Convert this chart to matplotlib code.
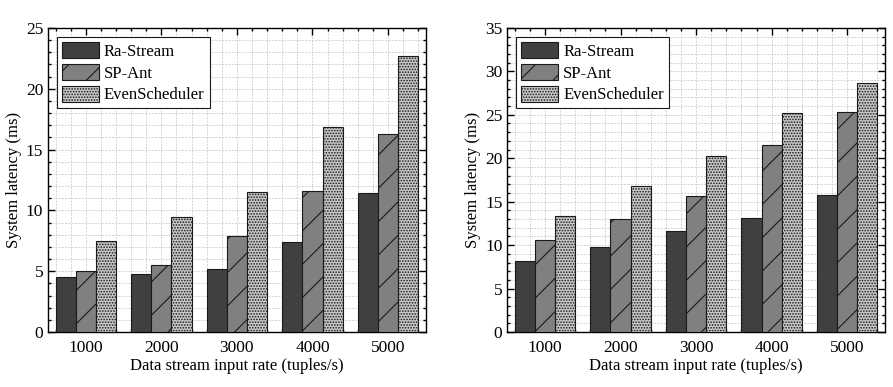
# -*- coding: utf-8 -*-
"""System latency vs. data stream input rate (two panels)."""

import numpy as np
import matplotlib
matplotlib.use("Agg")
import matplotlib.pyplot as plt
from matplotlib.ticker import MultipleLocator

rates = ["1000", "2000", "3000", "4000", "5000"]
series = ["Ra-Stream", "SP-Ant", "EvenScheduler"]

# left panel
left_ra = [4.5, 4.75, 5.2, 7.4, 11.4]
left_sp = [5.05, 5.5, 7.9, 11.6, 16.3]
left_even = [7.45, 9.45, 11.55, 16.85, 22.7]

# right panel
right_ra = [8.15, 9.8, 11.6, 13.1, 15.8]
right_sp = [10.6, 13.05, 15.6, 21.55, 25.3]
right_even = [13.3, 16.75, 20.25, 25.2, 28.7]

plt.rcParams["font.family"] = ["Liberation Serif", "DejaVu Serif"]
plt.rcParams["patch.force_edgecolor"] = True
plt.rcParams["patch.edgecolor"] = "#1a1a1a"
plt.rcParams["hatch.color"] = "#444444"
plt.rcParams["hatch.linewidth"] = 0.8

faces = ["#404040", "#808080", "#c8c8c8"]
hatches = [None, "/", "......"]


def _panel(ax, data, ymax):
    x = np.arange(1, len(rates) + 1)
    w = 0.267
    for i, (vals, name) in enumerate(zip(data, series)):
        ax.bar(x + (i - 1) * w, vals, width=w, color=faces[i], hatch=hatches[i],
               linewidth=0.8, label=name, zorder=3)
    ax.set_xlim(0.5, len(rates) + 0.5)
    ax.set_ylim(0, ymax)
    ax.set_xticks(x)
    ax.set_xticklabels(rates)
    ax.xaxis.set_minor_locator(MultipleLocator(0.2))
    ax.yaxis.set_major_locator(MultipleLocator(5))
    ax.yaxis.set_minor_locator(MultipleLocator(1))
    ax.tick_params(which="both", direction="in", top=True, right=True,
                   labelsize=12.5, width=1.0)
    ax.tick_params(which="major", length=5)
    ax.tick_params(which="minor", length=2.5)
    ax.tick_params(axis="x", pad=6)
    ax.grid(which="both", color="#cccccc", linestyle=(0, (2.5, 1.5)),
            linewidth=0.6, zorder=0)
    ax.set_axisbelow(True)
    for s in ax.spines.values():
        s.set_linewidth(1.0)
    ax.set_xlabel("Data stream input rate (tuples/s)", fontsize=12, labelpad=1)
    ax.set_ylabel("System latency (ms)", fontsize=12, labelpad=3)
    leg = ax.legend(loc="upper left", fontsize=12, handlelength=2.2,
                    handleheight=1.1, labelspacing=0.25, handletextpad=0.3,
                    borderpad=0.3, borderaxespad=0.55, fancybox=False,
                    framealpha=1, edgecolor="#1a1a1a")
    leg.get_frame().set_linewidth(0.8)


fig = plt.figure(figsize=(8.93, 3.87), dpi=100)
ax1 = fig.add_axes([0.0538, 0.142, 0.423, 0.786])
ax2 = fig.add_axes([0.568, 0.142, 0.423, 0.786])
_panel(ax1, [left_ra, left_sp, left_even], 25)
_panel(ax2, [right_ra, right_sp, right_even], 35)

fig.savefig("out.png", dpi=100)
